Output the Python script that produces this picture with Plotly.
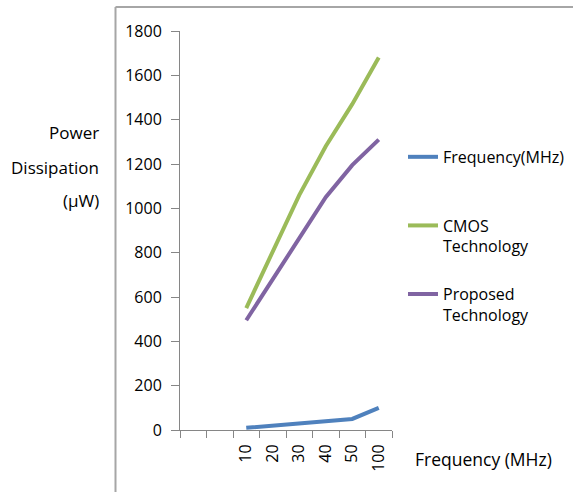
import plotly.graph_objects as go

# Category slots on the x axis (two leading empty slots, then the frequencies)
n_slots = 8
freq_labels = ["10", "20", "30", "40", "50", "100"]
first_slot = n_slots - len(freq_labels)
slot_pos = list(range(first_slot, n_slots))

# Series values (µW, except the frequency series itself)
frequency_mhz = [10, 20, 30, 40, 50, 100]
cmos_power = [550, 810, 1060, 1280, 1470, 1680]
proposed_power = [495, 680, 865, 1050, 1195, 1310]

y_ticks = [0, 200, 400, 600, 800, 1000, 1200, 1400, 1600, 1800]

FONT = "Open Sans, Liberation Sans, sans-serif"
TEXT = "#000000"
AXIS = "#868686"

fig = go.Figure()

series = [
    ("Frequency(MHz)<br> ", frequency_mhz, "#4F81BD"),
    ("CMOS<br>Technology", cmos_power, "#9BBB59"),
    ("Proposed<br>Technology", proposed_power, "#8064A2"),
]
for i, (name, vals, color) in enumerate(series):
    fig.add_trace(go.Scatter(
        x=slot_pos, y=vals, name=name, mode="lines",
        line=dict(color=color, width=4),
        legendgroup=f"g{i}",
    ))

fig.update_layout(
    width=573, height=492, autosize=False,
    margin=dict(l=180, r=181, t=31, b=62, autoexpand=False),
    paper_bgcolor="white", plot_bgcolor="white",
    font=dict(family=FONT, size=16, color=TEXT),
    showlegend=True,
    legend=dict(
        x=(403 - 180) / 212, xanchor="left", y=0.727, yanchor="top",
        traceorder="grouped", tracegroupgap=24, valign="top",
        font=dict(family=FONT, size=16, color=TEXT),
        bgcolor="rgba(0,0,0,0)", itemwidth=30,
    ),
    xaxis=dict(
        range=[-0.5, n_slots - 0.5],
        tickmode="array", tickvals=slot_pos, ticktext=freq_labels,
        ticks="", tickangle=-90, ticklabelstandoff=7,
        minor=dict(tickmode="linear", tick0=-0.5, dtick=1,
                   ticks="outside", ticklen=7, tickcolor=AXIS),
        showline=True, linecolor=AXIS, linewidth=1,
        showgrid=False, zeroline=False, automargin=False,
        tickfont=dict(family=FONT, size=16, color=TEXT),
    ),
    yaxis=dict(
        range=[0, 1800], tickvals=y_ticks,
        ticks="outside", ticklen=8, tickcolor=AXIS,
        showline=True, linecolor=AXIS, linewidth=1,
        showgrid=False, zeroline=False, ticklabelstandoff=6,
        automargin=False,
        tickfont=dict(family=FONT, size=16, color=TEXT),
    ),
)

# Y axis title, one line per annotation
for text, ypix in [("Power", 132), ("Dissipation", 167), ("(µW)", 200)]:
    fig.add_annotation(
        text=text, xref="paper", yref="paper",
        x=(101 - 180) / 212, y=(430 - ypix) / 399,
        xanchor="right", yanchor="middle", showarrow=False,
        font=dict(family=FONT, size=17, color=TEXT),
    )

# X axis title
fig.add_annotation(
    text="Frequency (MHz)", xref="paper", yref="paper",
    x=(413 - 180) / 212, y=(430 - 459) / 399,
    xanchor="left", yanchor="middle", showarrow=False,
    font=dict(family=FONT, size=17.5, color=TEXT),
)

# Chart area frame (left and top edges)
frame = dict(color="#a6a6a6", width=2)
fig.add_shape(type="line", xref="paper", yref="paper",
              x0=(115.5 - 180) / 212, x1=(115.5 - 180) / 212,
              y0=(430 - 7) / 399, y1=(430 - 500) / 399, line=frame)
fig.add_shape(type="line", xref="paper", yref="paper",
              x0=(115.5 - 180) / 212, x1=(580 - 180) / 212,
              y0=(430 - 7) / 399, y1=(430 - 7) / 399, line=frame)

fig.write_html("out.html")
